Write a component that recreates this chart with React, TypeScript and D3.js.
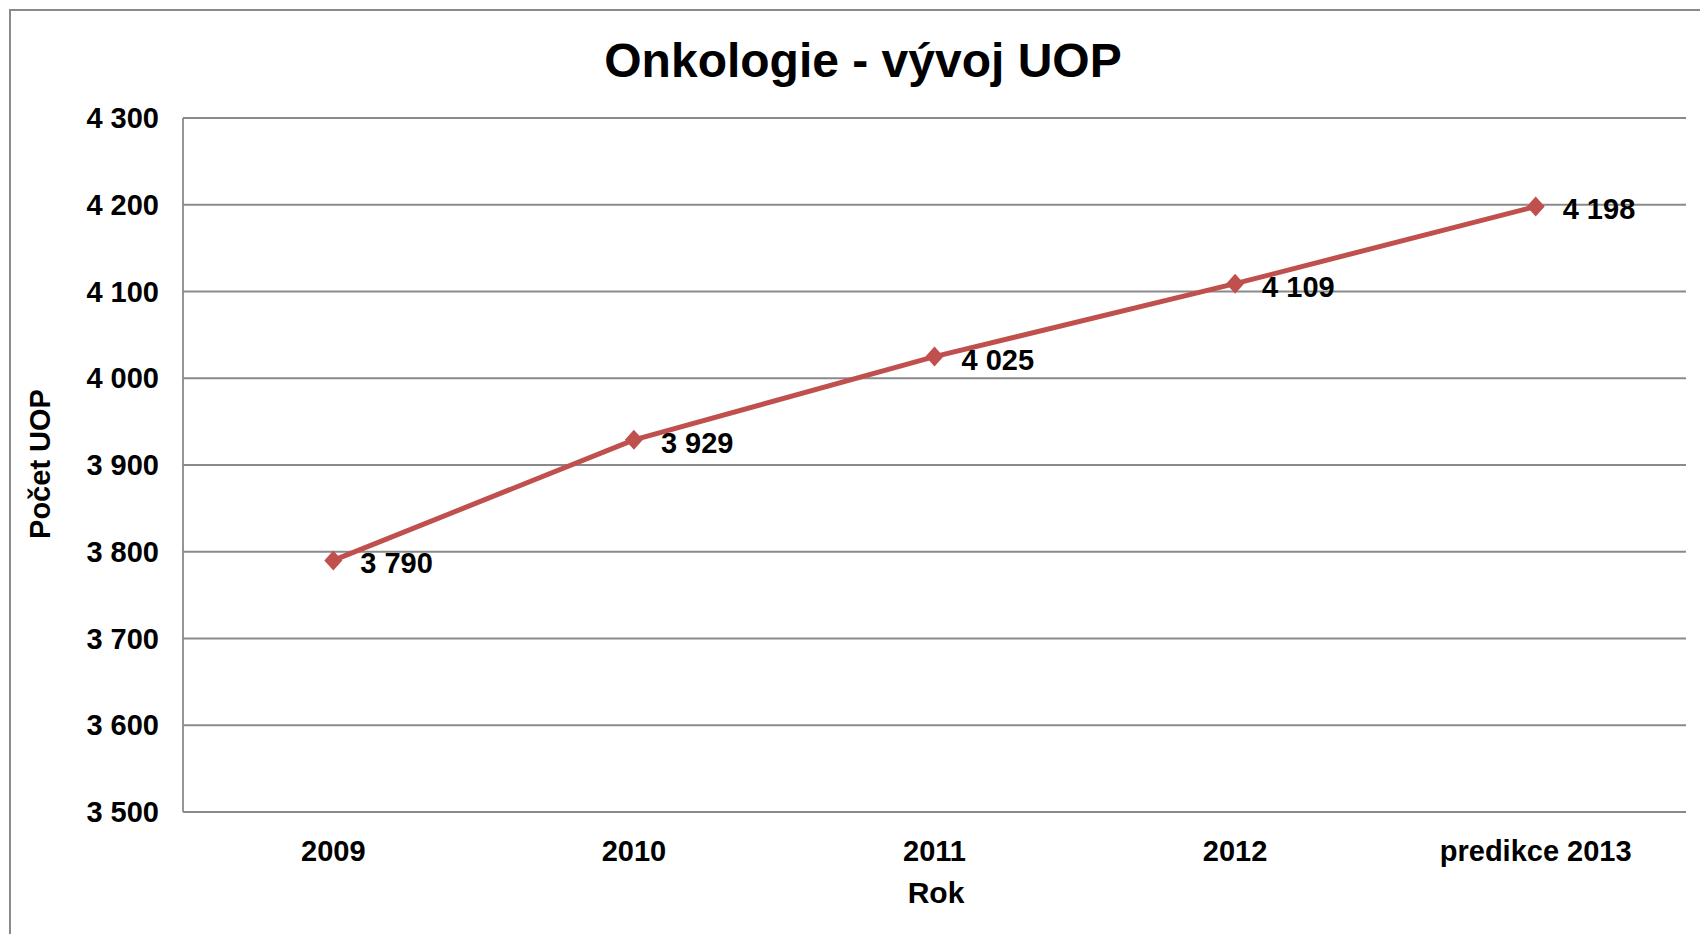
import React, { useEffect, useRef } from "react";
import * as d3 from "d3";

const categories = ["2009", "2010", "2011", "2012", "predikce 2013"];
const values = [3790, 3929, 4025, 4109, 4198];
const yTicks = [3500, 3600, 3700, 3800, 3900, 4000, 4100, 4200, 4300];

const W = 1700;
const H = 934;
const FONT = "'Liberation Sans', Arial, sans-serif";
const RED = "#C0504D";
const GRID = "#8a8a8a";
const FS = 29;

// czech-style thousands separator (space)
const fmt = (v: number) => d3.format(",")(v).replace(/,/g, " ");

export default function App() {
  const svgRef = useRef<SVGSVGElement | null>(null);

  useEffect(() => {
    if (!svgRef.current) return;
    const svg = d3.select(svgRef.current);
    svg.selectAll("*").remove();

    const margin = { top: 118, right: W - 1686, bottom: H - 812, left: 183 };

    const x = d3
      .scaleBand<string>()
      .domain(categories)
      .range([margin.left, W - margin.right]);
    const y = d3
      .scaleLinear()
      .domain([3500, 4300])
      .range([H - margin.bottom, margin.top]);

    svg.append("rect").attr("width", W).attr("height", H).attr("fill", "#fff");

    // outer chart border (runs off the right and bottom edge)
    svg
      .append("path")
      .attr("d", `M10,${H + 5}V10H${W + 5}`)
      .attr("fill", "none")
      .attr("stroke", GRID)
      .attr("stroke-width", 2);

    // gridlines
    svg
      .append("g")
      .selectAll("line")
      .data(yTicks)
      .join("line")
      .attr("x1", margin.left)
      .attr("x2", W - margin.right)
      .attr("y1", (d) => y(d))
      .attr("y2", (d) => y(d))
      .attr("stroke", GRID)
      .attr("stroke-width", 1.8);

    // y axis line
    svg
      .append("line")
      .attr("x1", margin.left)
      .attr("x2", margin.left)
      .attr("y1", margin.top)
      .attr("y2", H - margin.bottom)
      .attr("stroke", GRID)
      .attr("stroke-width", 1.8);

    // y tick labels
    svg
      .append("g")
      .selectAll("text")
      .data(yTicks)
      .join("text")
      .attr("x", 159)
      .attr("y", (d) => y(d) + 10)
      .attr("text-anchor", "end")
      .attr("font-family", FONT)
      .attr("font-weight", "bold")
      .attr("font-size", FS)
      .text((d) => fmt(d));

    // x tick labels
    svg
      .append("g")
      .selectAll("text")
      .data(categories)
      .join("text")
      .attr("x", (d) => x(d)! + x.bandwidth() / 2)
      .attr("y", H - margin.bottom + 49)
      .attr("text-anchor", "middle")
      .attr("font-family", FONT)
      .attr("font-weight", "bold")
      .attr("font-size", FS)
      .text((d) => d);

    const pts = categories.map((c, i) => ({ c, v: values[i] }));
    const px = (p: { c: string }) => x(p.c)! + x.bandwidth() / 2;

    const line = d3
      .line<{ c: string; v: number }>()
      .x(px)
      .y((p) => y(p.v));

    svg
      .append("path")
      .datum(pts)
      .attr("fill", "none")
      .attr("stroke", RED)
      .attr("stroke-width", 5)
      .attr("stroke-linejoin", "round")
      .attr("d", line);

    // diamond markers
    svg
      .append("g")
      .selectAll("path")
      .data(pts)
      .join("path")
      .attr("d", (p) => {
        const cx = px(p);
        const cy = y(p.v);
        return `M${cx},${cy - 10}L${cx + 9},${cy}L${cx},${cy + 10}L${cx - 9},${cy}Z`;
      })
      .attr("fill", RED);

    // data labels
    svg
      .append("g")
      .selectAll("text")
      .data(pts)
      .join("text")
      .attr("x", (p) => px(p) + 27)
      .attr("y", (p) => y(p.v) + 13)
      .attr("font-family", FONT)
      .attr("font-weight", "bold")
      .attr("font-size", FS)
      .text((p) => fmt(p.v));

    // title
    svg
      .append("text")
      .attr("x", 863)
      .attr("y", 77)
      .attr("text-anchor", "middle")
      .attr("font-family", FONT)
      .attr("font-weight", "bold")
      .attr("font-size", 48)
      .text("Onkologie - vývoj UOP");

    // axis titles
    svg
      .append("text")
      .attr("x", 936)
      .attr("y", 903)
      .attr("text-anchor", "middle")
      .attr("font-family", FONT)
      .attr("font-weight", "bold")
      .attr("font-size", 30)
      .text("Rok");

    svg
      .append("text")
      .attr("transform", "translate(50,464) rotate(-90)")
      .attr("text-anchor", "middle")
      .attr("font-family", FONT)
      .attr("font-weight", "bold")
      .attr("font-size", 29)
      .text("Počet UOP");
  }, []);

  return (
    <svg
      ref={svgRef}
      width={W}
      height={H}
      style={{ position: "absolute", left: 0, top: 0, display: "block" }}
    />
  );
}
